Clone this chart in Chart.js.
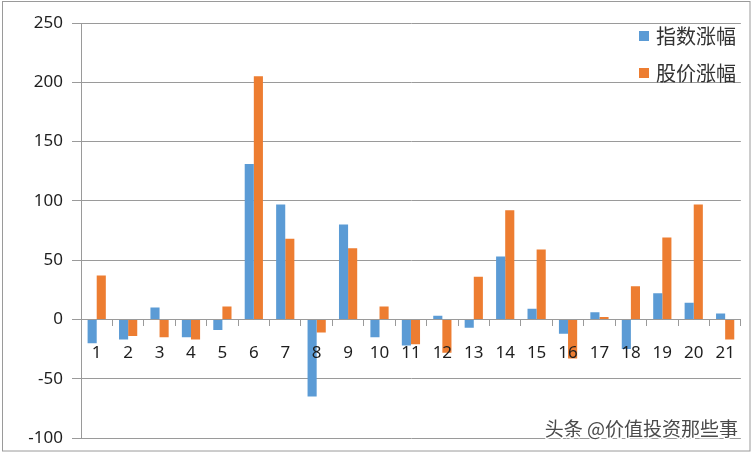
<!DOCTYPE html>
<html>
<head>
<meta charset="utf-8">
<script src="https://cdn.jsdelivr.net/npm/chart.js@4.4.1/dist/chart.umd.min.js"></script>
<style>
  html, body { margin: 0; padding: 0; background: #fff; }
  canvas { display: block; }
</style>
</head>
<body>
<canvas id="chart" width="753" height="453"></canvas>
<script>
const categories = ["1","2","3","4","5","6","7","8","9","10","11","12","13","14","15","16","17","18","19","20","21"];
const indexRise = [-20, -17, 10, -15, -9, 131, 97, -65, 80, -15, -22, 3, -7, 53, 9, -12, 6, -25, 22, 14, 5];
const priceRise = [37, -14, -15, -17, 11, 205, 68, -11, 60, 11, -21, -28, 36, 92, 59, -33, 2, 28, 69, 97, -17];
const seriesNames = ["指数涨幅", "股价涨幅"];
const yTicks = [-100, -50, 0, 50, 100, 150, 200, 250];
const watermark = "头条 @价值投资那些事";

const BLUE = "#5b9bd5";
const ORANGE = "#ed7d31";
const GRID = "#9a9a9a";
const TEXT = "#1e1e1e";
const FONT = "'Noto Sans', 'Noto Sans CJK SC', sans-serif";

// frame, legend and watermark
const extras = {
  id: "extras",
  beforeDraw(chart) {
    const ctx = chart.ctx;
    ctx.save();
    ctx.fillStyle = "#fff";
    ctx.fillRect(0, 0, chart.width, chart.height);
    ctx.strokeStyle = "#9a9a9a";
    ctx.lineWidth = 1;
    ctx.strokeRect(2.5, 1.5, 747.5, 449.5);
    ctx.restore();
  },
  afterDraw(chart) {
    const ctx = chart.ctx;
    ctx.save();
    ctx.font = "20px 'Noto Sans CJK SC', sans-serif";
    ctx.textBaseline = "middle";
    chart.data.datasets.forEach((ds, i) => {
      const y = 36 + i * 37;
      ctx.fillStyle = ds.backgroundColor;
      ctx.fillRect(639, y - 5, 10, 10);
      ctx.fillStyle = "#333";
      ctx.fillText(ds.label, 656, y);
    });
    ctx.font = "19px 'Noto Sans CJK SC', sans-serif";
    ctx.textAlign = "right";
    ctx.lineWidth = 3;
    ctx.strokeStyle = "#fff";
    ctx.strokeText(watermark, 738, 429);
    ctx.fillStyle = "#4a4a4a";
    ctx.fillText(watermark, 738, 429);
    ctx.restore();
  }
};

new Chart(document.getElementById("chart"), {
  type: "bar",
  data: {
    labels: categories,
    datasets: [
      { label: seriesNames[0], data: indexRise, backgroundColor: BLUE },
      { label: seriesNames[1], data: priceRise, backgroundColor: ORANGE }
    ]
  },
  options: {
    responsive: false,
    animation: false,
    devicePixelRatio: 1,
    layout: { padding: { left: 0, top: 23, right: 5, bottom: 15 } },
    datasets: { bar: { categoryPercentage: 0.58, barPercentage: 1.0 } },
    plugins: { legend: { display: false }, tooltip: { enabled: false } },
    scales: {
      x: {
        position: { y: 0 },
        offset: true,
        grid: { offset: true, drawOnChartArea: false, drawTicks: true, tickLength: 6, color: GRID },
        border: { display: true, color: GRID },
        ticks: { z: 1, color: TEXT, font: { family: FONT, size: 17 }, padding: 18, maxRotation: 0, autoSkip: false }
      },
      y: {
        min: -100,
        max: 250,
        afterFit(scale) {
          scale.width = 81;
          scale.paddingTop = 0;
          scale.paddingBottom = 0;
        },
        afterBuildTicks(scale) { scale.ticks = yTicks.map(v => ({ value: v })); },
        grid: { color: GRID, tickLength: 9, drawTicks: true },
        border: { display: true, color: GRID },
        ticks: { color: TEXT, font: { family: FONT, size: 17 }, padding: 9 }
      }
    }
  },
  plugins: [extras]
});
</script>
</body>
</html>
